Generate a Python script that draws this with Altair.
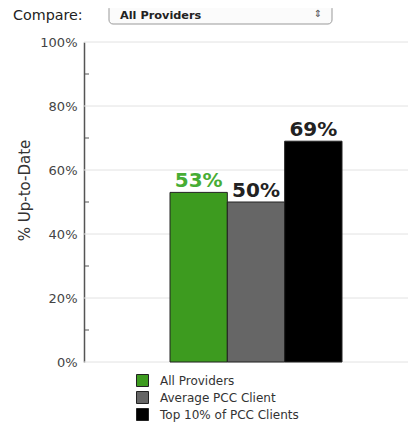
import altair as alt
import pandas as pd

categories = ["All Providers", "Average PCC Client", "Top 10% of PCC Clients"]
values = [53, 50, 69]
bar_colors = ["#3d9b1f", "#666666", "#000000"]
label_colors = ["#47ad35", "#222222", "#222222"]
labels = ["53%", "50%", "69%"]
minor_ticks = [10, 30, 50, 70, 90]
major_ticks = [0, 20, 40, 60, 80, 100]

df = pd.DataFrame({"cat": categories, "val": values, "lab": labels, "lcol": label_colors})
ticks_df = pd.DataFrame({"v": minor_ticks})
grid_df = pd.DataFrame({"v": major_ticks})

FONT = "DejaVu Sans"

xenc = alt.X("cat:N", sort=categories, axis=None,
             scale=alt.Scale(paddingInner=0, paddingOuter=0, range=[86, 258]))

grid = alt.Chart(grid_df).mark_rule(color="#e2e2e2", strokeWidth=1).encode(
    y=alt.Y("v:Q", scale=alt.Scale(domain=[0, 100]),
            axis=alt.Axis(values=major_ticks, labelExpr="datum.value + '%'",
                          title="% Up-to-Date", ticks=False, grid=False,
                          domainColor="#555555", domainWidth=1.5,
                          labelFont=FONT, labelFontSize=13, labelColor="#444444",
                          labelPadding=7, titleFont=FONT, titleFontSize=15,
                          titleFontWeight="normal", titleColor="#333333",
                          titleX=-60, titleY=148, titleBaseline="middle",
                          titleAlign="center", titleAngle=270)),
    x=alt.value(0),
    x2=alt.value(324),
)

bars = alt.Chart(df).mark_bar(stroke="#222222", strokeWidth=1).encode(
    x=xenc,
    y=alt.Y("val:Q"),
    color=alt.Color("cat:N", sort=categories,
                    scale=alt.Scale(domain=categories, range=bar_colors),
                    legend=alt.Legend(title=None, orient="none", legendX=52, legendY=332,
                                      symbolType="square", symbolSize=144,
                                      symbolStrokeColor="#222222", symbolStrokeWidth=1,
                                      labelFont=FONT, labelFontSize=12, labelColor="#333333",
                                      rowPadding=0, labelOffset=11, padding=0)),
)

text = alt.Chart(df).mark_text(font=FONT, fontSize=20, fontWeight="bold", dy=-5,
                               baseline="alphabetic").encode(
    x=xenc,
    y=alt.Y("val:Q"),
    text="lab:N",
    color=alt.Color("lcol:N", scale=None),
)

minor = alt.Chart(ticks_df).mark_rule(color="#555555", strokeWidth=1).encode(
    y=alt.Y("v:Q"),
    x=alt.value(0),
    x2=alt.value(5),
)

ui = pd.DataFrame({"t": ["Compare:"]})
compare_txt = alt.Chart(ui).mark_text(font=FONT, fontSize=14.3, align="left",
                                      baseline="alphabetic", color="#222222").encode(
    x=alt.value(-71), y=alt.value(-22), text="t:N")

box = alt.Chart(ui).mark_rect(fill="#fbfbfb", stroke="#999999", strokeWidth=1,
                              cornerRadius=4).encode(
    x=alt.value(25), x2=alt.value(248), y=alt.value(-37.5), y2=alt.value(-18))

sel = pd.DataFrame({"t": ["All Providers"]})
box_txt = alt.Chart(sel).mark_text(font=FONT, fontSize=11.3, align="left",
                                   baseline="alphabetic", fontWeight="bold",
                                   color="#222222").encode(
    x=alt.value(36), y=alt.value(-23), text="t:N")

arrow = pd.DataFrame({"t": ["⇕"]})
arrow_txt = alt.Chart(arrow).mark_text(font=FONT, fontSize=10, align="center",
                                       baseline="middle", color="#555555").encode(
    x=alt.value(234), y=alt.value(-28), text="t:N")

chart = alt.layer(grid, bars, text, minor, box, compare_txt, box_txt, arrow_txt).properties(
    width=324, height=320,
    padding={"left": 76, "top": 34, "right": 0, "bottom": 60},
    autosize=alt.AutoSizeParams(type="none"),
).configure_view(stroke=None).resolve_scale(color="independent")

chart.save("out.html", embed_options={"renderer": "svg", "actions": False})
